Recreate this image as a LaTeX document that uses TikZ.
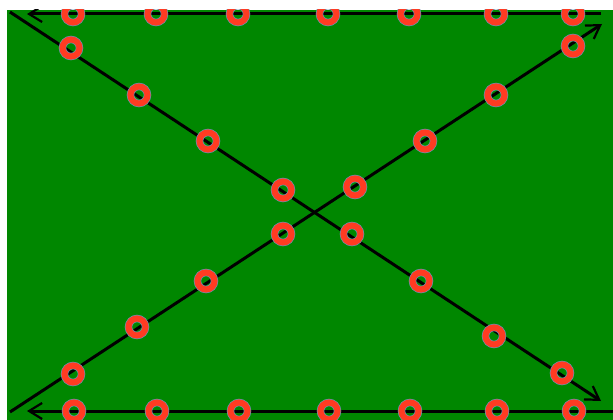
\documentclass[tikz,border=0pt]{standalone}
\usetikzlibrary{arrows.meta}
\definecolor{bggreen}{HTML}{008700}
\definecolor{ringred}{HTML}{FF3B22}
\definecolor{ringedge}{HTML}{6F8FB0}
\tikzset{
  ring/.style={circle,inner sep=0pt,minimum size=17pt,draw=ringedge,line width=0.7pt,double=ringred,double distance=6pt},
  track/.style={line width=3pt,draw=black,-{Straight Barb[length=13pt,width=16pt,line width=2.2pt]}}
}
\begin{document}
\begin{tikzpicture}[x=1pt,y=-1pt]
\useasboundingbox (0,0) rectangle (613,420);
\fill[white] (0,0) rectangle (613,420);
\begin{scope}
\clip (7,10) rectangle (613,420);
\fill[bggreen] (7,10) rectangle (613,420);
% end points
\coordinate (ts) at (601,14);
\coordinate (te) at (27,14);
\coordinate (bs) at (613,411);
\coordinate (be) at (27,411);
\coordinate (as) at (10,12);
\coordinate (ae) at (601,401);
\coordinate (cs) at (10,412);
\coordinate (ce) at (602,24);
\draw[track] (ts) -- (te);
\draw[track] (bs) -- (be);
\draw[track] (as) -- (ae);
\draw[track] (cs) -- (ce);
% top row
\foreach \x [count=\i] in {73,156,238,328,409,496,573}
  \node[ring] (t\i) at (\x,14) {};
% bottom row
\foreach \x [count=\i] in {74,157,239,329,410,497,574}
  \node[ring] (b\i) at (\x,411) {};
% diagonal down-right
\foreach \x/\y [count=\i] in {71/48,139/95,208/141,283/190,352/234,421/281,494/336,562/373}
  \node[ring] (d\i) at (\x,\y) {};
% diagonal up-right
\foreach \x/\y [count=\i] in {73/374,137/327,206/281,283/234,355/187,425/141,496/95,573/46}
  \node[ring] (u\i) at (\x,\y) {};
\end{scope}
\end{tikzpicture}
\end{document}
